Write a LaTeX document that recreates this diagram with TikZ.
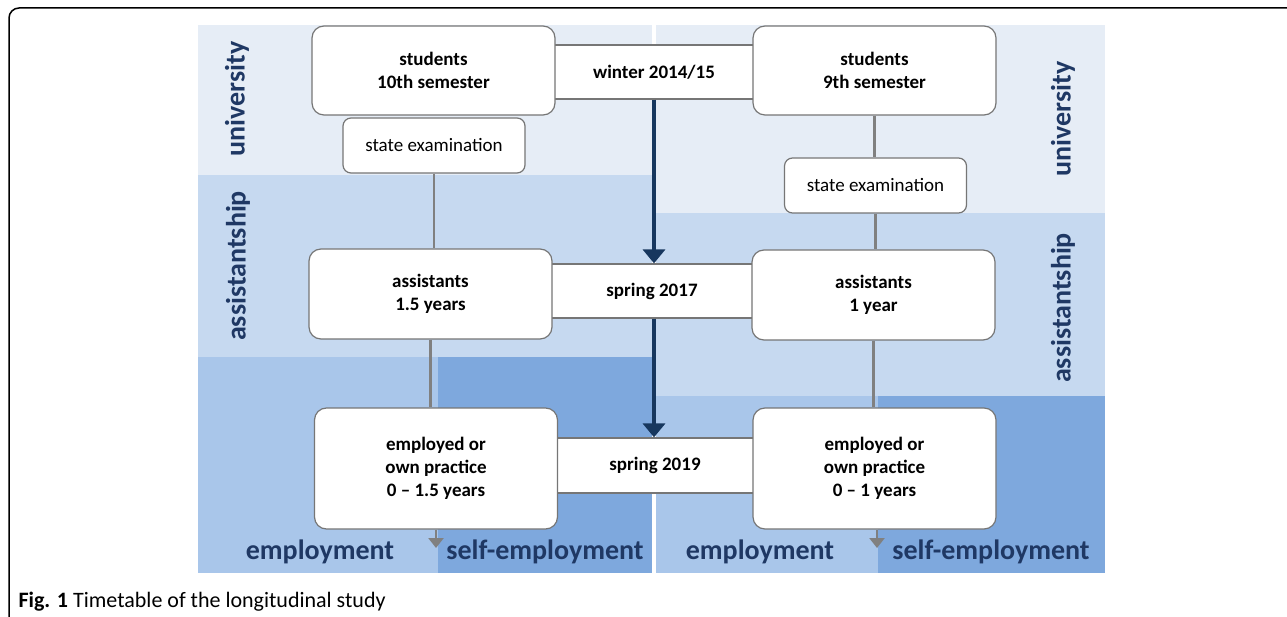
\documentclass[tikz,border=0pt]{standalone}
\usepackage{fontspec}
\setmainfont{Carlito}
\usetikzlibrary{arrows.meta, calc}
\definecolor{unibg}{RGB}{230,237,246}
\definecolor{assistbg}{RGB}{198,217,240}
\definecolor{employbg}{RGB}{169,198,234}
\definecolor{selfbg}{RGB}{126,168,221}
\definecolor{navy}{RGB}{31,56,100}
\definecolor{arrowblue}{RGB}{23,55,94}
\definecolor{boxgray}{RGB}{118,118,118}
\definecolor{linegray}{RGB}{128,128,128}
\tikzset{
    x=1pt, y=-1pt,
    every node/.style={font=\fontsize{19}{23}\selectfont},
    phasebox/.style={draw=boxgray, fill=white, rounded corners=12pt,
        line width=1.2pt, align=center, inner sep=0pt,
        minimum width=243pt, font=\fontsize{19}{23}\selectfont\bfseries},
    exambox/.style={phasebox, minimum width=182pt, minimum height=55pt,
        rounded corners=8pt, font=\fontsize{19}{23}\selectfont},
    datebox/.style={draw=boxgray, fill=white, line width=1.2pt,
        inner sep=0pt, minimum height=54pt,
        font=\fontsize{19}{23}\selectfont\bfseries},
    bandlabel/.style={text=navy, font=\fontsize{28}{30}\selectfont\bfseries},
    lifeline/.style={draw=linegray, line width=2.6pt},
    timearrow/.style={draw=arrowblue, line width=4pt,
        -{Triangle[width=22pt,length=14pt]}},
}
\begin{document}
\begin{tikzpicture}
    \useasboundingbox (0,0) rectangle (1287,617);
    \draw[line width=1.5pt, rounded corners=10pt] (1295,8) -- (9,8) -- (9,630);
    % bands, left and right
    \fill[unibg] (198,25) rectangle (652,175);
    \fill[assistbg] (198,175) rectangle (652,357);
    \fill[employbg] (198,357) rectangle (438,573);
    \fill[selfbg] (438,357) rectangle (652,573);
    \fill[unibg] (656,25) rectangle (1105,213);
    \fill[assistbg] (656,213) rectangle (1105,396);
    \fill[employbg] (656,396) rectangle (878,573);
    \fill[selfbg] (878,396) rectangle (1105,573);
    \node[bandlabel, rotate=90] (uniL) at (237,99) {university};
    \node[bandlabel, rotate=90] (assL) at (238,266) {assistantship};
    \node[bandlabel, rotate=90] (uniR) at (1063,119) {university};
    \node[bandlabel, rotate=90] (assR) at (1063,308) {assistantship};
    \node[bandlabel] (empL) at (320,552) {employment};
    \node[bandlabel] (selfL) at (545,552) {self-employment};
    \node[bandlabel] (empR) at (760,552) {employment};
    \node[bandlabel] (selfR) at (991,552) {self-employment};
    % dates
    \node[datebox, minimum width=230pt] (winter) at (654,72) {winter 2014/15};
    \node[datebox, minimum width=230pt] (spring17) at (652,291) {spring 2017};
    \node[datebox, minimum width=230pt, minimum height=55pt] (spring19)
        at (655,465.5) {spring 2019};
    % phases
    \node[phasebox, minimum height=89pt] (stud10) at (433.5,70.5)
        {students\\10th semester};
    \node[exambox] (examL) at (434,145.5) {state examination};
    \node[phasebox, minimum height=89pt] (stud9) at (874.5,70.5)
        {students\\9th semester};
    \node[exambox] (examR) at (875.5,185.5) {state examination};
    \node[phasebox, minimum height=90pt] (assist15) at (430.5,294)
        {assistants\\1.5 years};
    \node[phasebox, minimum height=90pt] (assist1) at (873.5,295)
        {assistants\\1 year};
    \node[phasebox, minimum height=121pt] (workL) at (436,468.5)
        {employed or\\own practice\\0 -- 1.5 years};
    \node[phasebox, minimum height=121pt] (workR) at (874.5,468.5)
        {employed or\\own practice\\0 -- 1 years};
    \coordinate (endL) at (436,548);
    \coordinate (endR) at (877,548);
    % lifelines
    \foreach \a/\b in {examL/assist15, assist15/workL, stud9/examR,
        examR/assist1, assist1/workR}{
        \draw[lifeline] (\a.south) -- (\a.south |- \b.north);
    }
    \draw[lifeline, -{Triangle[width=15pt,length=10pt]}]
        (workL.south -| endL) -- (endL);
    \draw[lifeline, -{Triangle[width=15pt,length=10pt]}]
        (workR.south -| endR) -- (endR);
    \draw[timearrow] (winter.south) -- (winter.south |- spring17.north);
    \draw[timearrow] (spring17.south -| winter.south)
        -- (winter.south |- spring19.north);
    \node[anchor=base west, font=\fontsize{22}{26}\selectfont] (caption)
        at (15,607) {\textbf{Fig. 1} Timetable of the longitudinal study};
\end{tikzpicture}
\end{document}
